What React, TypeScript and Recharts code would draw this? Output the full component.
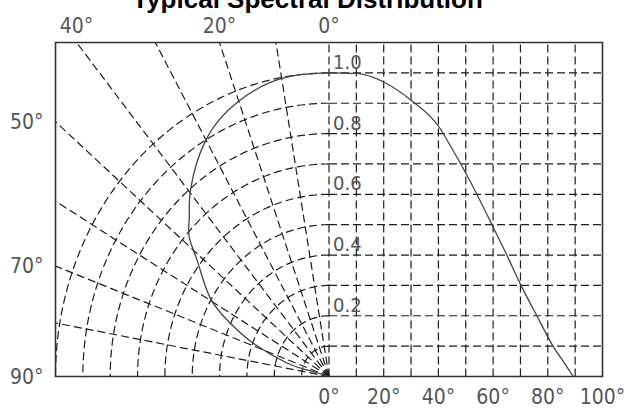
import { LineChart, Line, XAxis, YAxis, ReferenceLine, ReferenceArea } from "recharts";

// polar grid (left half) and cartesian grid (right half)
const gridRadii = [0.1, 0.2, 0.3, 0.4, 0.5, 0.6, 0.7, 0.8, 0.9, 1.0];
const radialAngles = [10, 20, 30, 40, 50, 60, 70, 80];
const angleLines = [0, 10, 20, 30, 40, 50, 60, 70, 80, 90];
const levelLines = [0.1, 0.2, 0.3, 0.4, 0.5, 0.6, 0.7, 0.8, 0.9, 1.0];

// tick labels
const bottomTicks = [0, 20, 40, 60, 80, 100];
const topAngleTicks = [40, 20, 0];
const leftAngleTicks = [50, 70, 90];
const levelLabels = [1.0, 0.8, 0.6, 0.4, 0.2];

// right: relative intensity vs angle
const spectrumAngles = [0, 10, 20, 30, 40, 45, 50, 59.6, 65, 70.2, 76, 81.9, 86, 89.3];
const spectrumValues = [1.0, 0.998, 0.97, 0.91, 0.825, 0.75, 0.67, 0.5, 0.4, 0.3, 0.2, 0.1, 0.045, 0];

// left: radiation pattern (angle from axis, radius)
const polarAngles = [0, 10, 20.2, 30, 39.5, 44, 48, 52, 59.2, 64, 68.4, 73.9, 75, 76];
const polarValues = [1.0, 0.997, 0.964, 0.9, 0.796, 0.735, 0.688, 0.608, 0.506, 0.403, 0.299, 0.16, 0.08, 0];

const Y_MAX = 1.1;
const rad = (d: number) => (d * Math.PI) / 180;
const deg = (r: number) => (r * 180) / Math.PI;
// left half: 0.1 of radius spans the same width as 10 units on the angle axis
const toPolar = (a: number, r: number) => ({ x: -100 * r * Math.sin(rad(a)), y: r * Math.cos(rad(a)) });

const arcSteps = Array.from({ length: 91 }, (_, i) => i);
const arcs = gridRadii.map((r) => arcSteps.map((a) => toPolar(a, r)));
const spectrum = spectrumAngles.map((a, i) => ({ x: a, y: spectrumValues[i] }));
const polar = polarAngles.map((a, i) => toPolar(a, polarValues[i]));

const topTickPos = topAngleTicks.map((a) => -100 * Y_MAX * Math.tan(rad(a)));
const leftTickPos = leftAngleTicks.map((a) => Math.cos(rad(a)) / Math.sin(rad(a)));

const GRID = "#1c1c1c";
const DASH = "8 4";
const labelFont = "'Liberation Sans Narrow', 'DejaVu Sans Condensed', sans-serif";
const tickStyle = { fill: "#555", fontSize: 21, fontFamily: labelFont };

export default function App() {
  return (
    <div style={{ position: "relative", width: 631, height: 408, overflow: "hidden", background: "#fff" }}>
      <style>{"body{margin:0}"}</style>
      <LineChart width={631} height={408} margin={{ top: 12.5, right: 28.5, bottom: 1.5, left: 5.5 }}>
        <XAxis
          xAxisId="b"
          dataKey="x"
          type="number"
          domain={[-100, 100]}
          allowDataOverflow
          ticks={bottomTicks}
          interval={0}
          tickFormatter={(v) => `${v}°`}
          axisLine={false}
          tickLine={false}
          tickSize={0}
          tickMargin={13}
          height={30}
          tick={tickStyle}
        />
        <XAxis
          xAxisId="t"
          orientation="top"
          dataKey="x"
          type="number"
          domain={[-100, 100]}
          allowDataOverflow
          ticks={topTickPos}
          interval={0}
          tickFormatter={(v) => `${Math.round(deg(Math.atan(-v / (100 * Y_MAX))))}°`}
          axisLine={false}
          tickLine={false}
          tickSize={0}
          tickMargin={10}
          height={30}
          tick={tickStyle}
        />
        <YAxis
          yAxisId="l"
          type="number"
          domain={[0, Y_MAX]}
          allowDataOverflow
          ticks={leftTickPos}
          interval={0}
          tickFormatter={(v) => `${Math.round(deg(Math.atan2(1, v)))}°`}
          axisLine={false}
          tickLine={false}
          tickSize={0}
          tickMargin={12}
          width={50}
          tick={tickStyle}
        />

        {arcs.map((pts, i) => (
          <Line
            key={`arc${i}`}
            xAxisId="b"
            yAxisId="l"
            data={pts}
            dataKey="y"
            type="linear"
            stroke={GRID}
            strokeWidth={1.2}
            strokeDasharray={DASH}
            dot={false}
            activeDot={false}
            isAnimationActive={false}
          />
        ))}
        {radialAngles.map((a) => (
          <ReferenceLine
            key={`rad${a}`}
            xAxisId="b"
            yAxisId="l"
            segment={[{ x: 0, y: 0 }, toPolar(a, 2)]}
            ifOverflow="hidden"
            stroke={GRID}
            strokeWidth={1.2}
            strokeDasharray={DASH}
          />
        ))}
        {angleLines.map((a) => (
          <ReferenceLine
            key={`v${a}`}
            xAxisId="b"
            yAxisId="l"
            x={a}
            stroke={GRID}
            strokeWidth={1.2}
            strokeDasharray={DASH}
          />
        ))}
        {levelLines.map((v) => (
          <ReferenceLine
            key={`h${v}`}
            xAxisId="b"
            yAxisId="l"
            segment={[{ x: 0, y: v }, { x: 100, y: v }]}
            ifOverflow="visible"
            stroke={GRID}
            strokeWidth={1.2}
            strokeDasharray={DASH}
            label={
              levelLabels.includes(v)
                ? { value: v.toFixed(1), position: "insideBottomLeft", offset: 4, ...tickStyle, fontSize: 20 }
                : undefined
            }
          />
        ))}

        <Line
          xAxisId="b"
          yAxisId="l"
          data={polar}
          dataKey="y"
          type="natural"
          stroke="#444"
          strokeWidth={1.3}
          dot={false}
          activeDot={false}
          isAnimationActive={false}
        />
        <Line
          xAxisId="b"
          yAxisId="l"
          data={spectrum}
          dataKey="y"
          type="monotone"
          stroke="#444"
          strokeWidth={1.3}
          dot={false}
          activeDot={false}
          isAnimationActive={false}
        />

        <ReferenceArea
          xAxisId="b"
          yAxisId="l"
          x1={-100}
          x2={100}
          y1={0}
          y2={Y_MAX}
          ifOverflow="visible"
          fill="none"
          stroke="#333"
          strokeWidth={1.6}
        />
      </LineChart>
      <div
        style={{
          position: "absolute",
          left: 0,
          top: -14,
          width: 615,
          textAlign: "center",
          font: "bold 26px 'Liberation Sans', Arial, sans-serif",
          lineHeight: "26px",
          color: "#000",
          whiteSpace: "nowrap",
        }}
      >
        Typical Spectral Distribution
      </div>
    </div>
  );
}
